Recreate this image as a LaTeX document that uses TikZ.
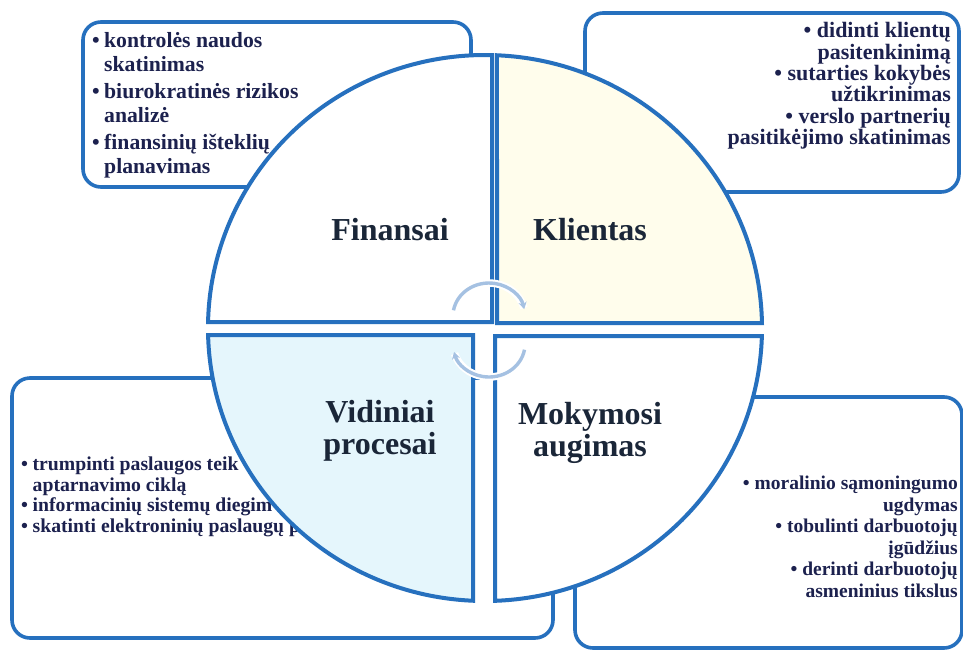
\documentclass[tikz,border=0pt]{standalone}
\usepackage{fontspec}
\setmainfont{Liberation Serif}
\usetikzlibrary{arrows.meta}

\definecolor{frameblue}{RGB}{38,112,190}
\definecolor{noteink}{RGB}{28,33,78}
\definecolor{titleink}{RGB}{26,38,56}
\definecolor{creamfill}{RGB}{255,253,236}
\definecolor{icefill}{RGB}{229,246,252}
\definecolor{cycleblue}{RGB}{165,193,226}

% bullet set in a box of fixed width, and the matching indent
\newcommand\dotitem[1]{\makebox[#1][l]{•}}
\newcommand\dotindent[1]{\hspace*{#1}}

\begin{document}
\begin{tikzpicture}[x=1pt,y=-1pt,
  framebox/.style={draw=frameblue, line width=3.6pt, rounded corners=18pt},
  quarter/.style={draw=frameblue, line width=4pt, line join=miter},
  quadtitle/.style={font=\bfseries\fontsize{32}{32}\selectfont, text=titleink, align=center, inner sep=0pt},
  notetext/.style={text=noteink, inner sep=0pt},
  cyclearc/.style={draw=cycleblue, line width=3.4pt, -{Stealth[length=7pt,width=8pt]}},
  halo/.style={draw=white, line width=7.5pt}
]
\useasboundingbox (0,0) rectangle (963,651);
\fill[white] (0,0) rectangle (963,651);

% frames holding the notes of each perspective
\draw[framebox] (83,22) rectangle (471,187);
\draw[framebox] (585,13) rectangle (959,192);
\draw[framebox] (12,378) rectangle (553,638);
\draw[framebox] (575,397) rectangle (962,648);

% notes
\node[notetext, anchor=north west, align=left, font=\bfseries\fontsize{21.7}{24}\selectfont] (finnotes) at (92,32.3)
  {\dotitem{12pt}kontrolės naudos\\\dotindent{12pt}skatinimas\\[3pt]
   \dotitem{12pt}biurokratinės rizikos\\\dotindent{12pt}analizė\\[3pt]
   \dotitem{12pt}finansinių išteklių\\\dotindent{12pt}planavimas};

\node[notetext, anchor=north east, align=right, font=\bfseries\fontsize{22}{21.4}\selectfont] (klinotes) at (951,22.2)
  {• didinti klientų\\pasitenkinimą\\• sutarties kokybės\\užtikrinimas\\• verslo partnerių\\pasitikėjimo skatinimas};

\node[notetext, anchor=north west, align=left, font=\bfseries\fontsize{19.7}{20.8}\selectfont] (vidnotes) at (21,456.5)
  {\dotitem{11.5pt}trumpinti paslaugos teik\\\dotindent{11.5pt}aptarnavimo ciklą\\
   \dotitem{11.5pt}informacinių sistemų diegim\\\dotitem{11.5pt}skatinti elektroninių paslaugų p};

\node[notetext, anchor=north east, align=right, font=\bfseries\fontsize{19.5}{21.6}\selectfont] (mokynotes) at (958,475.7)
  {• moralinio sąmoningumo\\ugdymas\\• tobulinti darbuotojų\\įgūdžius\\• derinti darbuotojų\\asmeninius tikslus};

% the four quarters of the circle
\filldraw[quarter, fill=white] (492,322) -- (208.07,322)
  arc[start angle=181.26, end angle=271.45, x radius=277, y radius=273] -- cycle;
\filldraw[quarter, fill=creamfill] (497,323) -- (761.95,323)
  arc[start angle=-1.05, end angle=-87.52, x radius=277, y radius=273] -- cycle;
\filldraw[quarter, fill=icefill] (473,335) -- (208.09,335)
  arc[start angle=178.53, end angle=92.48, x radius=277, y radius=273] -- cycle;
\filldraw[quarter, fill=white] (495,336) -- (761.88,336)
  arc[start angle=1.68, end angle=87.93, x radius=277, y radius=273] -- cycle;

% quarter titles
\node[quadtitle, anchor=base] (fin) at (390,240) {Finansai};
\node[quadtitle, anchor=base] (kli) at (590,240) {Klientas};
\node[quadtitle, anchor=north] (vid) at (380,400.2) {Vidiniai\\procesai};
\node[quadtitle, anchor=north] (mok) at (590,402.2) {Mokymosi\\augimas};

% cycle arrows in the middle
\coordinate (uppc) at (489,316);
\coordinate (lowc) at (489,344);
\draw[halo] (uppc) ++(190:36 and 33) arc[start angle=190, end angle=346, x radius=36, y radius=33];
\draw[cyclearc] (uppc) ++(190:36 and 33) arc[start angle=190, end angle=348, x radius=36, y radius=33];
\draw[halo] (lowc) ++(10:36 and 33) arc[start angle=10, end angle=163, x radius=36, y radius=33];
\draw[cyclearc] (lowc) ++(10:36 and 33) arc[start angle=10, end angle=166, x radius=36, y radius=33];
\end{tikzpicture}
\end{document}
